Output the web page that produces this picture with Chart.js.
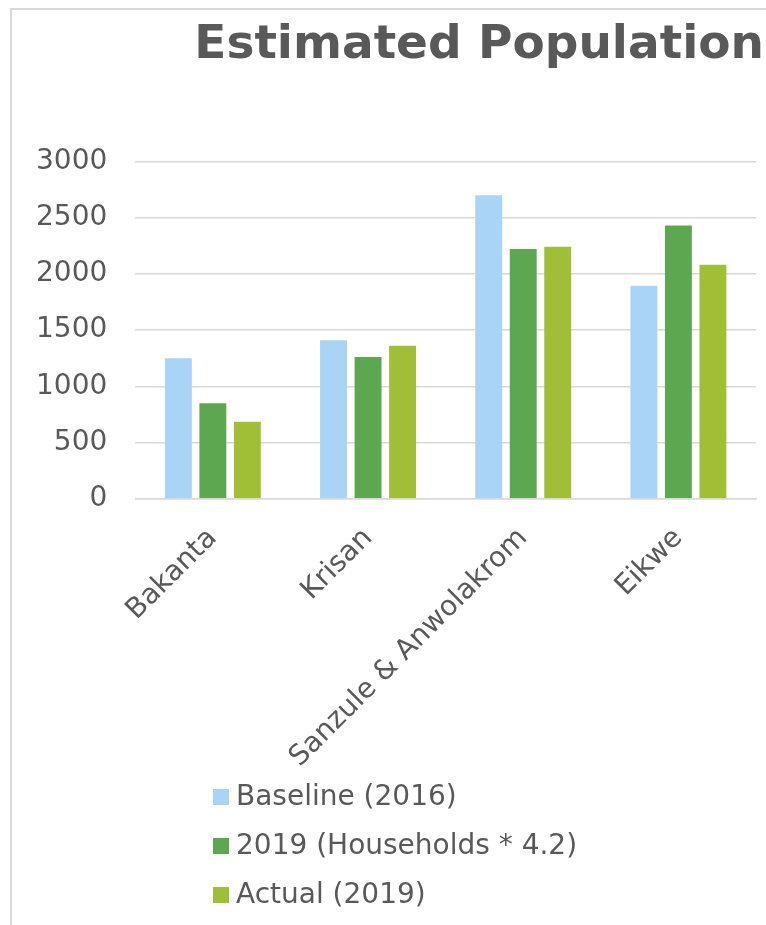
<!DOCTYPE html>
<html>
<head>
<meta charset="utf-8">
<script src="https://cdn.jsdelivr.net/npm/chart.js@4"></script>
<style>
    body { margin: 0; background: #fff; }
    #frame {
        position: absolute; left: 10px; top: 8px; width: 800px; height: 960px;
        border-top: 2px solid #d9d9d9; border-left: 2px solid #d9d9d9;
    }
    #wrap { position: absolute; left: 0; top: 0; width: 766px; height: 789px; }
    #legend {
        position: absolute; left: 213px; top: 771px;
        font-family: "DejaVu Sans", Verdana, sans-serif; font-size: 28px; color: #595959;
    }
    #legend div { height: 49px; line-height: 49px; white-space: nowrap; }
    #legend span.box { display: inline-block; width: 16px; height: 16px; margin-right: 7px; }
</style>
</head>
<body>
<div id="frame"></div>
<div id="wrap"><canvas id="chart"></canvas></div>
<div id="legend"></div>

<script>
    var categories = ["Bakanta", "Krisan", "Sanzule & Anwolakrom", "Eikwe"];
    var baseline2016 = [1250, 1410, 2700, 1895];
    var households2019 = [850, 1260, 2220, 2430];
    var actual2019 = [685, 1360, 2240, 2080];
    var seriesNames = ["Baseline (2016)", "2019 (Households * 4.2)", "Actual (2019)"];
    var seriesColors = ["#a9d4f5", "#5ea751", "#a1be37"];
    var yTicks = [0, 500, 1000, 1500, 2000, 2500, 3000];

    var textColor = "#595959";
    var fontFamily = "'DejaVu Sans', Verdana, sans-serif";

    var series = [baseline2016, households2019, actual2019];
    var datasets = series.map(function (values, i) {
        return {
            label: seriesNames[i],
            data: values,
            backgroundColor: seriesColors[i],
            borderWidth: 0,
            categoryPercentage: 0.667,
            barPercentage: 0.78
        };
    });

    // the title runs a bit past the plot's right edge, as in the original
    const nudgeTitle = {
        id: "nudgeTitle",
        afterLayout(chart) {
            if (chart.titleBlock) {
                chart.titleBlock.left += 8;
                chart.titleBlock.right += 8;
            }
        }
    };

    var chart = new Chart(document.getElementById("chart"), {
        type: "bar",
        data: { labels: categories, datasets: datasets },
        plugins: [nudgeTitle],
        options: {
            responsive: true,
            maintainAspectRatio: false,
            animation: false,
            layout: { padding: { left: 8, right: 10, top: 0, bottom: 0 } },
            plugins: {
                legend: { display: false },
                tooltip: { enabled: false },
                title: {
                    display: true,
                    text: "Estimated Population",
                    align: "end",
                    color: textColor,
                    font: { family: fontFamily, size: 47, weight: "bold" },
                    padding: { top: 18, bottom: 87 }
                }
            },
            scales: {
                y: {
                    min: 0,
                    max: 3000,
                    afterBuildTicks: function (axis) {
                        axis.ticks = yTicks.map(function (v) { return { value: v }; });
                    },
                    grid: { color: "#d9d9d9", lineWidth: 1.5, drawTicks: false },
                    border: { display: false },
                    ticks: {
                        color: textColor,
                        padding: 28,
                        font: { family: fontFamily, size: 28 },
                        callback: function (v) { return String(v); }
                    }
                },
                x: {
                    grid: { display: false },
                    border: { color: "#d9d9d9", width: 1.5 },
                    ticks: {
                        color: textColor,
                        minRotation: 45,
                        maxRotation: 45,
                        padding: 15,
                        font: { family: fontFamily, size: 28 }
                    }
                }
            }
        }
    });

    var legendEl = document.getElementById("legend");
    chart.data.datasets.forEach(function (ds) {
        var row = document.createElement("div");
        var box = document.createElement("span");
        box.className = "box";
        box.style.background = ds.backgroundColor;
        row.appendChild(box);
        row.appendChild(document.createTextNode(ds.label));
        legendEl.appendChild(row);
    });
</script>
</body>
</html>
